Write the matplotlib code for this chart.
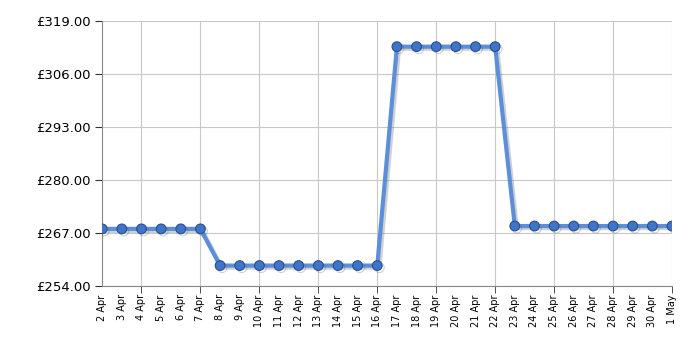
import matplotlib.pyplot as plt
import matplotlib.patheffects as pe
import numpy as np

days = ['2 Apr', '3 Apr', '4 Apr', '5 Apr', '6 Apr', '7 Apr', '8 Apr', '9 Apr', '10 Apr',
        '11 Apr', '12 Apr', '13 Apr', '14 Apr', '15 Apr', '16 Apr', '17 Apr', '18 Apr',
        '19 Apr', '20 Apr', '21 Apr', '22 Apr', '23 Apr', '24 Apr', '25 Apr', '26 Apr',
        '27 Apr', '28 Apr', '29 Apr', '30 Apr', '1 May']
prices = [268.0] * 6 + [259.0] * 9 + [312.7] * 6 + [268.7] * 9
y_ticks = [254, 267, 280, 293, 306, 319]

x = np.arange(len(days))

fig = plt.figure(figsize=(7, 3.5), dpi=100)
ax = fig.add_axes([0.146, 0.183, 0.814, 0.757])

shadow = [pe.SimpleLineShadow(offset=(1.5, -1.5), shadow_color='#666666', alpha=0.3), pe.Normal()]
ax.plot(x, prices, color='#5b8fdc', linewidth=3, marker='o', markersize=7,
        markerfacecolor='#3f75c9', markeredgecolor='#2a4f8a', markeredgewidth=0.8,
        path_effects=shadow, zorder=3)

ax.set_xlim(0, len(days) - 1)
ax.set_ylim(254, 319)
ax.set_yticks(y_ticks)
ax.set_yticklabels(['£%.2f' % v for v in y_ticks], fontsize=9.5)

ax.xaxis.remove_overlapping_locs = False
ax.set_xticks(x)
ax.set_xticklabels(days, rotation=90, fontsize=7)
ax.set_xticks(list(range(2, len(days), 3)), minor=True)
ax.tick_params(axis='x', which='major', length=0, pad=6)
ax.tick_params(axis='x', which='minor', length=5, direction='out', color='#333333')
ax.tick_params(axis='y', length=5, color='#333333')

ax.grid(True, axis='y', color='#c8c8c8', linewidth=0.8)
ax.grid(True, axis='x', which='minor', color='#c8c8c8', linewidth=0.8)
for s in ['top', 'right']:
    ax.spines[s].set_visible(False)
ax.spines['left'].set_color('#888888')
ax.spines['bottom'].set_color('#888888')

fig.savefig('out.png', dpi=100)
